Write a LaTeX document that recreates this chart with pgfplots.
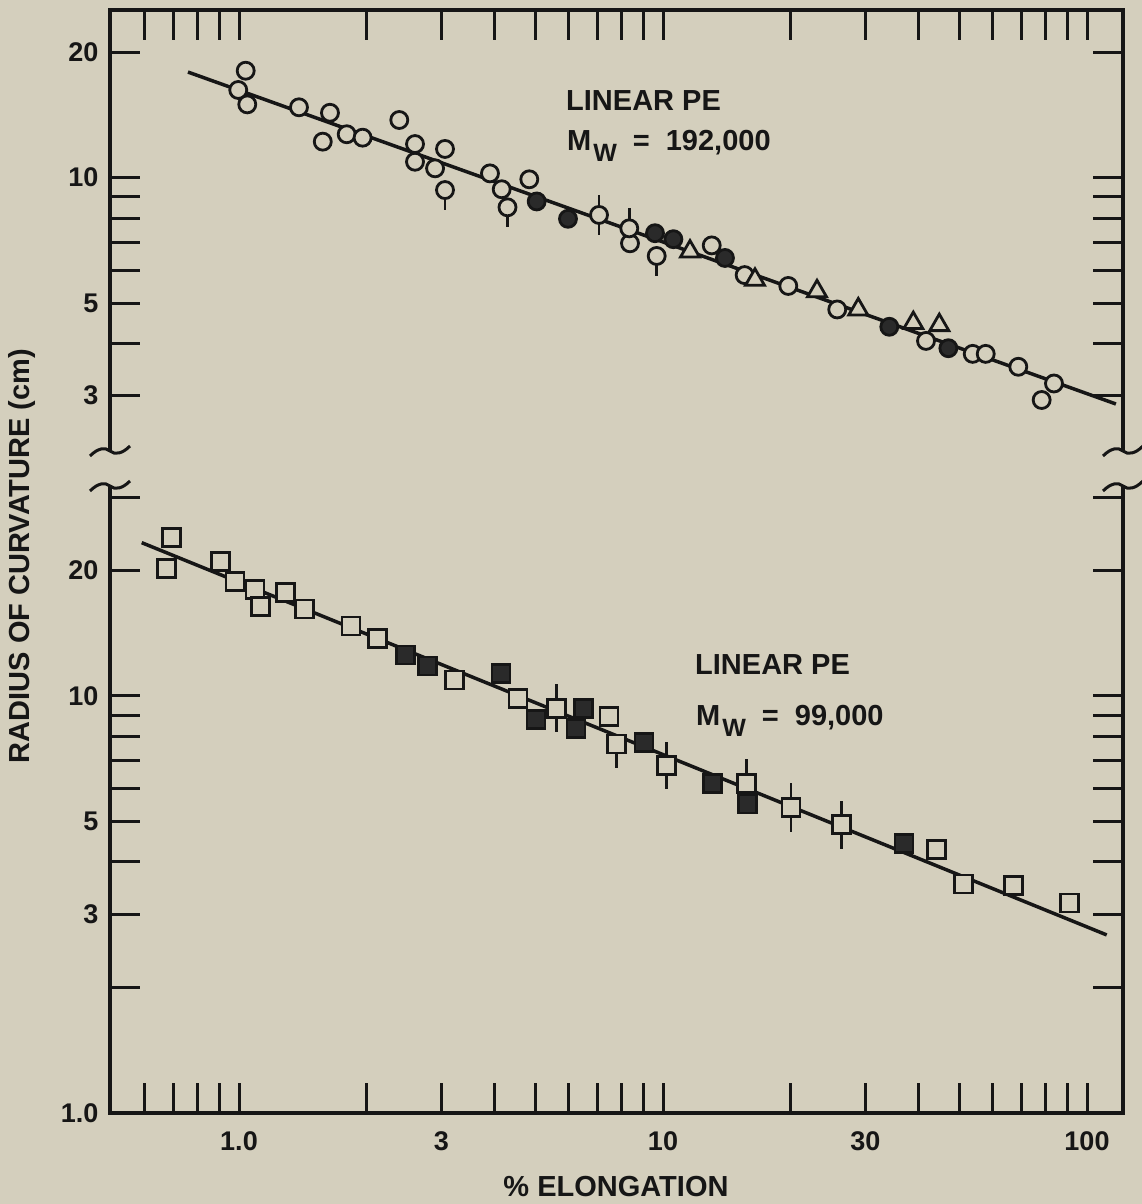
\documentclass[border=0pt]{standalone}
\usepackage{fontspec}
\setmainfont{Liberation Sans}
\usepackage{pgfplots}
\pgfplotsset{compat=1.18}
\definecolor{bg}{HTML}{D4CFBD}
\definecolor{ink}{HTML}{161616}
\definecolor{fillk}{HTML}{2A2A2A}

\pgfplotsset{
  ocirc/.style={only marks, mark=*, mark size=8.5pt, mark options={fill=bg, draw=ink, line width=2.8pt}},
  fcirc/.style={only marks, mark=*, mark size=8.5pt, mark options={fill=fillk, draw=ink, line width=2.8pt}},
  otri/.style={only marks, mark=triangle*, mark size=11pt, mark options={fill=bg, draw=ink, line width=2.8pt}},
  osq/.style={only marks, mark=square*, mark size=9pt, mark options={fill=bg, draw=ink, line width=2.8pt}},
  fsq/.style={only marks, mark=square*, mark size=9pt, mark options={fill=fillk, draw=ink, line width=2.8pt}},
  ebars/.style={error bars/.cd, y dir=both, y explicit, error mark=none,
     error bar style={line width=2.8pt, color=ink}},
  fitline/.style={no marks, ink, line width=3.5pt},
}
\newcommand{\mw}[1]{M\hspace{2pt}\raisebox{-11pt}{\fontsize{25}{25}\selectfont W}\hspace{16pt}=\hspace{16pt}#1}

\begin{document}
\begin{tikzpicture}
\fill[bg] (-110pt,-91pt) rectangle (1032pt,1113pt);

% ---------------- bottom section (Mw = 99,000) ----------------
\begin{axis}[
  scale only axis, width=1013pt, height=1103pt,
  at={(0pt,0pt)}, anchor=south west,
  xmode=log, ymode=log, xmin=0.4963, xmax=121.6,
  tick align=inside, xtick pos=both, ytick pos=both,
  major tick length=30pt, minor tick length=30pt,
  tick style={line width=3pt, color=ink},
  ticklabel style={font=\fontsize{27}{27}\selectfont\bfseries, text=ink},
  axis line style={line width=4.5pt, color=ink},
  ymin=1, ymax=441.7,
  xtick={1,3,10,30,100}, xticklabels={1.0,3,10,30,100},
  minor xtick={0.6,0.7,0.8,0.9,2,4,5,6,7,8,9,20,40,50,60,70,80,90},
  ytick={1,3,5,10,20}, yticklabels={1.0,3,5,10,20},
  minor ytick={2,4,6,7,8,9,30},
  xticklabel style={yshift=-15pt},
  yticklabel style={xshift=-8pt},
  xlabel={\% ELONGATION}, ylabel={RADIUS OF CURVATURE (cm)},
  every axis x label/.style={at={(axis description cs:0.4995,-0.0671)}, anchor=center,
     font=\fontsize{29}{29}\selectfont\bfseries, text=ink},
  every axis y label/.style={at={(axis description cs:-0.0869,0.505)}, anchor=center, rotate=90,
     font=\fontsize{29}{29}\selectfont\bfseries, text=ink},
]
\addplot[fitline] coordinates {(0.5896,23.32) (111.3,2.673)};
\addplot[osq] coordinates {
(0.694,24.02) (0.675,20.24) (0.905,20.99) (0.979,18.80) (1.091,18.03) (1.125,16.38)
(1.289,17.69) (1.426,16.17) (1.837,14.72) (2.124,13.75) (3.227,10.92) (4.550,9.87)
(7.458,8.92) (44.21,4.29) (51.08,3.54) (67.02,3.52) (90.83,3.19)};
\addplot[osq, ebars] coordinates {
(5.614,9.34) += (0,1.33) -= (0,1.16)
(7.779,7.67) += (0,0) -= (0,0.95)
(10.20,6.81) += (0,0.97) -= (0,0.84)
(15.76,6.17) += (0,0.88) -= (0,0)
(20.04,5.40) += (0,0.77) -= (0,0.67)
(26.39,4.91) += (0,0.70) -= (0,0.61)};
\addplot[fsq] coordinates {
(2.473,12.54) (2.784,11.80) (4.148,11.31) (5.018,8.79) (6.487,9.34) (6.235,8.37)
(9.020,7.73) (13.06,6.17) (15.82,5.51) (37.02,4.42)};
\end{axis}

% ---------------- top section (Mw = 192,000) ----------------
\begin{axis}[
  scale only axis, width=1013pt, height=1103pt,
  at={(0pt,0pt)}, anchor=south west,
  xmode=log, ymode=log, xmin=0.4963, xmax=121.6,
  tick align=inside, xtick pos=both, ytick pos=both,
  major tick length=30pt, minor tick length=30pt,
  tick style={line width=3pt, color=ink},
  ticklabel style={font=\fontsize{27}{27}\selectfont\bfseries, text=ink},
  yticklabel style={xshift=-8pt},
  axis line style={draw=none},
  ymin=0.05715, ymax=25.24,
  xtick=\empty, minor xtick={},
  ytick={3,5,10,20}, yticklabels={3,5,10,20},
  minor ytick={4,6,7,8,9},
]
\addplot[fitline] coordinates {(0.758,17.92) (117.0,2.866)};
\addplot[ocirc] coordinates {
(1.037,18.05) (0.996,16.23) (1.046,14.99) (1.385,14.75) (1.639,14.31) (1.576,12.20)
(1.795,12.71) (1.957,12.47) (2.388,13.75) (2.601,12.04) (2.601,10.92) (2.900,10.53)
(3.061,11.72) (3.908,10.24) (4.165,9.38) (4.838,9.91) (8.359,6.96) (13.03,6.88)
(15.58,5.84) (19.75,5.50) (25.76,4.83) (41.72,4.06) (53.76,3.78) (57.69,3.78)
(68.87,3.52) (83.58,3.21) (78.19,2.93)};
\addplot[ocirc, ebars] coordinates {
(3.061,9.34) += (0,0) -= (0,0.98)
(4.298,8.49) += (0,0) -= (0,0.89)
(7.065,8.14) += (0,0.95) -= (0,0.85)
(8.327,7.56) += (0,0.88) -= (0,0)
(9.663,6.49) += (0,0) -= (0,0.68)};
\addplot[fcirc] coordinates {
(5.036,8.77) (5.970,7.97) (9.575,7.36) (10.58,7.12) (14.00,6.42) (34.18,4.39) (47.10,3.90)};
\addplot[otri] coordinates {
(11.58,6.65) (16.48,5.69) (23.08,5.34) (28.88,4.83) (38.94,4.48) (44.84,4.43)};
\end{axis}

% axis breaks
\foreach \xx in {0,1013}{
  \fill[bg] (\xx pt-7pt,628pt) rectangle (\xx pt+7pt,661pt);
  \foreach \yy in {662,627}{
    \draw[ink, line width=3pt, shift={(\xx pt,\yy pt)}]
      (-20pt,-5pt) .. controls (-12pt,3pt) and (-5pt,4pt) .. (0pt,0pt)
      .. controls (5pt,-4pt) and (12pt,-3pt) .. (20pt,5pt);
  }
}

% annotations
\node[anchor=base west, inner sep=0pt, text=ink, font=\fontsize{29}{29}\selectfont\bfseries]
  at (456pt,1002.3pt) {LINEAR PE};
\node[anchor=base west, inner sep=0pt, text=ink, font=\fontsize{29}{29}\selectfont\bfseries]
  at (457pt,962.3pt) {\mw{192,000}};
\node[anchor=base west, inner sep=0pt, text=ink, font=\fontsize{29}{29}\selectfont\bfseries]
  at (585pt,438pt) {LINEAR PE};
\node[anchor=base west, inner sep=0pt, text=ink, font=\fontsize{29}{29}\selectfont\bfseries]
  at (586pt,387pt) {\mw{99,000}};

\pgfresetboundingbox
\path[use as bounding box] (-110pt,-91pt) rectangle (1032pt,1113pt);
\end{tikzpicture}
\end{document}
